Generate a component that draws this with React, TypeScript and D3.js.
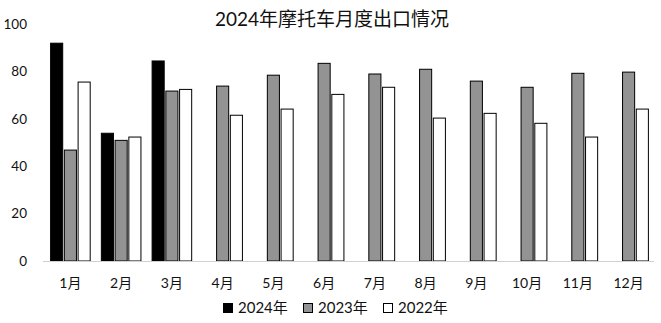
import React from "react";
import * as d3 from "d3";

const months = ["1月","2月","3月","4月","5月","6月","7月","8月","9月","10月","11月","12月"];
const series = ["2024年","2023年","2022年"];
const v2024 = [91.9, 53.9, 84.4, null, null, null, null, null, null, null, null, null];
const v2023 = [46.8, 50.9, 71.7, 73.8, 78.4, 83.4, 78.9, 80.9, 75.9, 73.3, 79.2, 79.7];
const v2022 = [75.5, 52.3, 72.4, 61.5, 64.1, 70.3, 73.3, 60.3, 62.3, 58.1, 52.3, 64.1];
const yTicks = [0, 20, 40, 60, 80, 100];
const title = "2024年摩托车月度出口情况";

const colors = ["#000000", "#939393", "#ffffff"];
const font = "Lato, 'Noto Sans CJK SC', sans-serif";

export default function App() {
  const W = 661, H = 323;
  const x0 = d3.scaleBand<string>().domain(months).range([43, 656]).paddingInner(0.22).paddingOuter(0.15);
  const x1 = d3.scaleBand<string>().domain(series).range([0, x0.bandwidth()]).paddingInner(0.12);
  const y = d3.scaleLinear().domain([0, 100]).range([261, 24]);
  const data = [v2024, v2023, v2022];
  const legendX = [223, 303, 383];
  return (
    <svg width={W} height={H} style={{ position: "absolute", left: 0, top: 0, background: "#fff" }}>
      <text x={332} y={26} textAnchor="middle" fontSize={19} fontFamily={font} fill="#111">{title}</text>
      {yTicks.map(t => (
        <text key={t} x={27} y={y(t)} dy="0.35em" textAnchor="end" fontSize={13.5} fontFamily={font} fill="#111">{t}</text>
      ))}
      {months.map((m, i) => (
        <g key={m}>
          {data.map((s, si) => {
            const v = s[i];
            if (v == null) return null;
            const bx = (x0(m) as number) + (x1(series[si]) as number);
            return (
              <rect key={si} x={bx} y={y(v)} width={x1.bandwidth()} height={y(0) - y(v)}
                fill={colors[si]} stroke="#000" strokeWidth={1} />
            );
          })}
          <text x={(x0(m) as number) + x0.bandwidth() / 2} y={283} dy="0.35em" textAnchor="middle"
            fontSize={14} fontFamily={font} fill="#111">{m}</text>
        </g>
      ))}
      <line x1={43} x2={654} y1={y(0) + 0.5} y2={y(0) + 0.5} stroke="#d0d0d0" strokeWidth={1} />
      {series.map((s, si) => (
        <g key={s}>
          <rect x={legendX[si] + 0.5} y={303.5} width={9} height={9} fill={colors[si]} stroke="#000" strokeWidth={1} />
          <text x={legendX[si] + 15} y={308} dy="0.35em" fontSize={15} fontFamily={font} fill="#111">{s}</text>
        </g>
      ))}
    </svg>
  );
}
